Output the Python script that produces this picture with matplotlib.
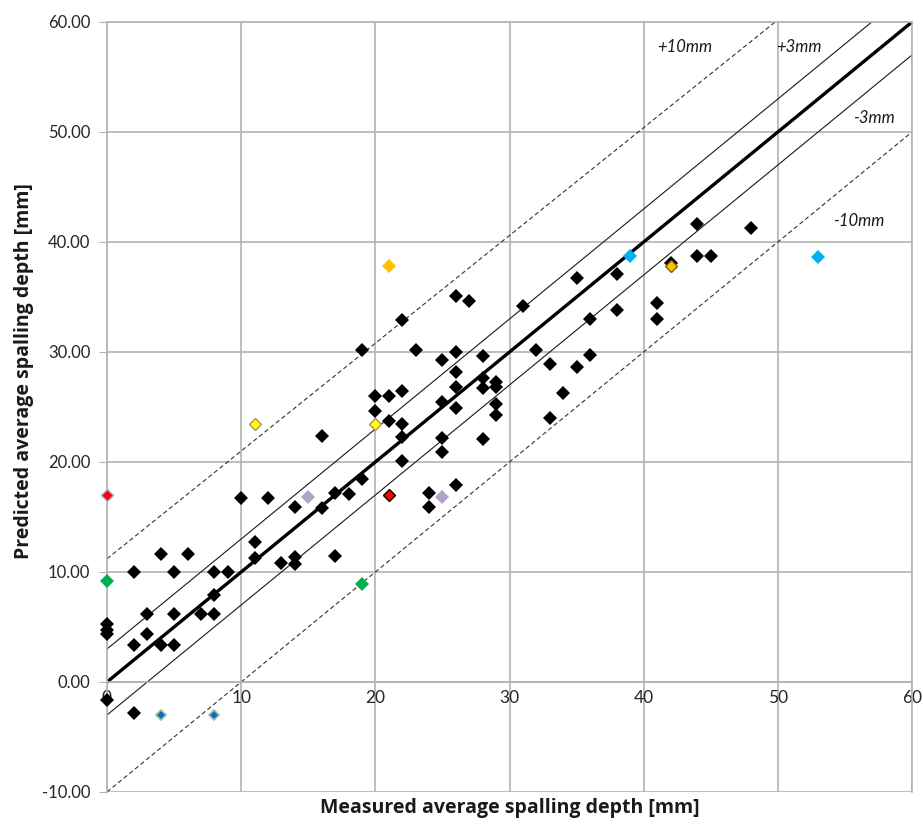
import matplotlib
matplotlib.use("Agg")
import matplotlib.pyplot as plt

plt.rcParams['font.family'] = ['Lato', 'DejaVu Sans']

# Black (measured vs predicted) points
meas = [0, 0, 0, 0, 2, 2, 2, 3, 3, 4, 4, 5, 5, 5, 6, 7, 8, 8, 8, 9, 10, 11, 11, 12, 13,
        14, 14, 14, 16, 16, 17, 17, 18, 19, 19, 20, 20, 21, 21, 22, 22, 22, 22, 22, 23,
        24, 24, 25, 25, 25, 25, 26, 26, 26, 26, 26, 26, 27, 28, 28, 28, 28, 29, 29, 29, 29,
        31, 32, 33, 33, 34, 35, 35, 36, 36, 38, 38, 41, 41, 42, 44, 44, 45, 48]
pred = [5.3, 4.7, 4.4, -1.6, 10.0, 3.4, -2.8, 6.2, 4.4, 11.6, 3.4, 10.0, 6.2, 3.4, 11.6, 6.2,
        10.0, 7.9, 6.2, 10.0, 16.7, 12.7, 11.3, 16.7, 10.8,
        15.9, 11.4, 10.7, 22.4, 15.8, 17.2, 11.5, 17.1, 30.2, 18.5, 26.0, 24.6, 26.0, 23.7,
        32.9, 26.5, 23.5, 22.3, 20.1, 30.2,
        17.2, 15.9, 29.3, 25.5, 22.2, 20.9, 35.1, 30.0, 28.2, 26.8, 24.9, 17.9, 34.6,
        29.6, 27.6, 26.7, 22.1, 27.3, 26.8, 25.3, 24.3,
        34.2, 30.2, 28.9, 24.0, 26.3, 36.7, 28.6, 33.0, 29.7, 37.1, 33.8, 34.5, 33.0, 38.1,
        41.6, 38.75, 38.75, 41.3]

# Coloured points
red_x, red_y = [0, 21], [17.0, 17.0]
green_x, green_y = [0, 19], [9.2, 8.9]
yellow_x, yellow_y = [11, 20], [23.5, 23.5]
gold_x, gold_y = [21, 42], [37.8, 37.8]
lav_x, lav_y = [15, 25], [16.8, 16.8]
cyan_x, cyan_y = [39, 53], [38.7, 38.6]
blue_x, blue_y = [4, 8], [-3.0, -3.0]

# Reference lines
line_11_x, line_11_y = [0, 60], [0, 60]
line_p3_x, line_p3_y = [0, 57], [3, 60]
line_m3_x, line_m3_y = [0, 60], [-3, 57]
line_p10_x, line_p10_y = [0, 49.8], [11.2, 60]
line_m10_x, line_m10_y = [0, 60], [-10, 50]

xticks = [0, 10, 20, 30, 40, 50, 60]
yticks = [-10, 0, 10, 20, 30, 40, 50, 60]

fig = plt.figure(figsize=(9.23, 8.24), dpi=100)
ax = fig.add_axes([107/923, 1-792/824, (912-107)/923, (792-22)/824])

gridc = '#b3b3b3'
ax.set_xlim(0, 60)
ax.set_ylim(-10, 60)
ax.set_xticks(xticks)
ax.set_yticks(yticks)
ax.set_yticklabels([f"{v:.2f}" for v in yticks])
ax.grid(True, color=gridc, lw=1.2, zorder=0)
ax.set_axisbelow(True)
for s in ['left', 'right', 'top']:
    ax.spines[s].set_color(gridc)
    ax.spines[s].set_linewidth(1.2)
ax.spines['bottom'].set_position(('data', 0))
ax.spines['bottom'].set_color(gridc)
ax.spines['bottom'].set_linewidth(1.2)
ax.tick_params(axis='y', direction='out', length=6, color=gridc, labelsize=12,
               labelcolor='#262626', pad=6)
ax.tick_params(axis='x', direction='out', length=0, color=gridc, labelsize=12.5,
               labelcolor='#262626', pad=6)

# lines
ax.plot(line_11_x, line_11_y, color='black', lw=2.4, zorder=2)
ax.plot(line_p3_x, line_p3_y, color='#1a1a1a', lw=0.8, zorder=2)
ax.plot(line_m3_x, line_m3_y, color='#1a1a1a', lw=0.8, zorder=2)
ax.plot(line_p10_x, line_p10_y, color='#333333', lw=0.8, ls=(0, (4, 2.5)), zorder=2)
ax.plot(line_m10_x, line_m10_y, color='#333333', lw=0.8, ls=(0, (4, 2.5)), zorder=2)

ms = 7
pk = dict(clip_on=False, zorder=4)
ax.plot(meas, pred, 'D', color='black', ms=ms, mew=0, clip_on=False, zorder=3)
ax.plot(red_x[:1], red_y[:1], 'D', mfc='#ff0000', mec='#9bb0d8', ms=ms-1, mew=1, **pk)
ax.plot(red_x[1:], red_y[1:], 'D', mfc='#ff0000', mec='black', ms=ms-1, mew=1, **pk)
ax.plot(green_x, green_y, 'D', mfc='#00b050', mec='#00b050', ms=ms, mew=0, **pk)
ax.plot(yellow_x, yellow_y, 'D', mfc='#ffff00', mec='#b08c6a', ms=ms-1, mew=1, **pk)
ax.plot(gold_x[:1], gold_y[:1], 'D', mfc='#ffc000', mec='#ffc000', ms=ms, mew=0, **pk)
ax.plot(gold_x[1:], gold_y[1:], 'D', mfc='#ffc000', mec='#7f6000', ms=ms-1, mew=1, **pk)
ax.plot(lav_x, lav_y, 'D', mfc='#b3a2c7', mec='#b3a2c7', ms=ms, mew=0, **pk)
ax.plot(cyan_x, cyan_y, 'D', mfc='#00b0f0', mec='#00b0f0', ms=ms, mew=0, **pk)
ax.plot(blue_x, blue_y, 'D', mfc='#0070c0', mec='#a6b7a0', ms=ms-1.5, mew=1.2, **pk)

# annotations
tkw = dict(fontsize=12, style='italic', color='#1a1a1a', va='center', ha='left')
ax.text(41.0, 57.7, '+10mm', **tkw)
ax.text(49.9, 57.7, '+3mm', **tkw)
ax.text(55.6, 51.3, '-3mm', **tkw)
ax.text(54.1, 41.9, '-10mm', **tkw)

lkw = dict(ha='center', va='center', fontsize=14, fontweight='bold', color='#1a1a1a',
           family=['Open Sans', 'DejaVu Sans'])
fig.text(510/923, 1-808/824, 'Measured average spalling depth [mm]', **lkw)
fig.text(24/923, 1-371/824, 'Predicted average spalling depth [mm]', rotation=90, **lkw)

fig.savefig('out.png', dpi=100)
